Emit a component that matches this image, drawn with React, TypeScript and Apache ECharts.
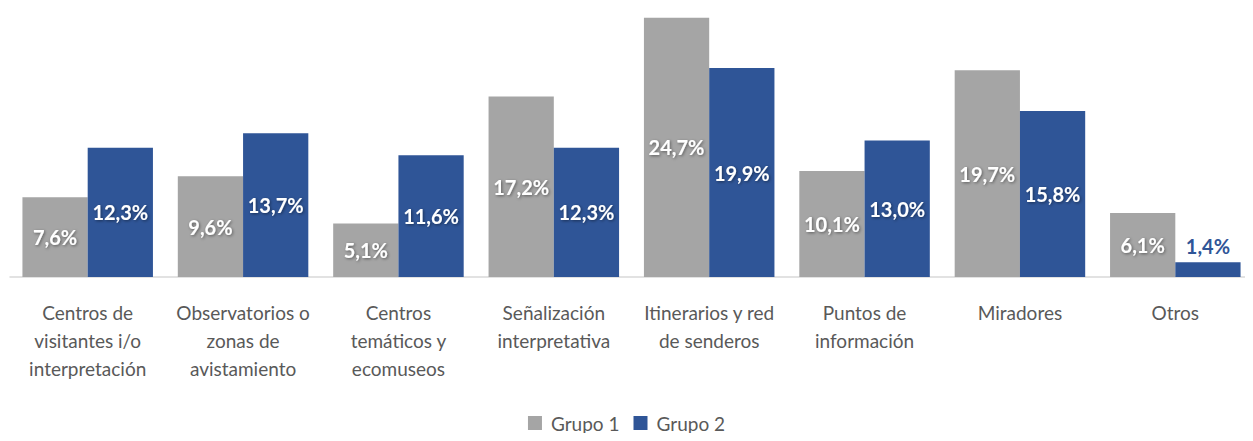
import React, { useEffect, useRef } from "react";
import * as echarts from "echarts";

const categories = [
  "Centros de\nvisitantes i/o\ninterpretación",
  "Observatorios o\nzonas de\navistamiento",
  "Centros\ntemáticos y\necomuseos",
  "Señalización\ninterpretativa",
  "Itinerarios y red\nde senderos",
  "Puntos de\ninformación",
  "Miradores",
  "Otros",
];
const grupo1 = [7.6, 9.6, 5.1, 17.2, 24.7, 10.1, 19.7, 6.1];
const grupo2 = [12.3, 13.7, 11.6, 12.3, 19.9, 13.0, 15.8, 1.4];
const seriesNames = ["Grupo 1", "Grupo 2"];

const FONT = "Lato, 'Open Sans', sans-serif";
const fmt = (v: number) => v.toFixed(1).replace(".", ",") + "%";

export default function App() {
  const ref = useRef<HTMLDivElement>(null);
  useEffect(() => {
    if (!ref.current) return;
    const chart = echarts.init(ref.current, undefined, { renderer: "svg" });
    const labelStyle = {
      show: true,
      position: "inside" as const,
      color: "#ffffff",
      fontFamily: FONT,
      fontWeight: "bold" as const,
      fontSize: 20,
      textShadowColor: "rgba(0,0,0,0.45)",
      textShadowBlur: 3,
      textShadowOffsetX: 1,
      textShadowOffsetY: 1,
      formatter: (p: any) => fmt(p.value),
    };
    chart.setOption({
      animation: false,
      textStyle: { fontFamily: FONT },
      grid: { left: 10, right: 0, top: 14.5, bottom: 164, containLabel: false },
      legend: {
        top: 412,
        left: "center",
        padding: 0,
        itemWidth: 14,
        itemHeight: 14,
        itemGap: 14,
        icon: "rect",
        textStyle: { fontFamily: FONT, fontSize: 19, lineHeight: 22, color: "#595959", padding: [0, 0, 0, 4] },
        data: seriesNames,
      },
      xAxis: {
        type: "category",
        data: categories,
        axisLine: { show: true, lineStyle: { color: "#D9D9D9", width: 1.5 } },
        axisTick: { show: false },
        axisLabel: {
          interval: 0,
          margin: 21,
          fontFamily: FONT,
          fontSize: 19,
          lineHeight: 28,
          color: "#595959",
        },
      },
      yAxis: { type: "value", min: 0, max: 25, show: false, splitLine: { show: false } },
      series: [
        {
          name: seriesNames[0],
          type: "bar",
          data: grupo1,
          barGap: "0%",
          barCategoryGap: "16%",
          itemStyle: { color: "#A5A5A5" },
          label: labelStyle,
        },
        {
          name: seriesNames[1],
          type: "bar",
          data: grupo2.map((v, i) =>
            i === grupo2.length - 1
              ? {
                  value: v,
                  label: {
                    position: "top",
                    color: "#2F5597",
                    textShadowColor: "transparent",
                    textShadowBlur: 0,
                    textShadowOffsetX: 0,
                    textShadowOffsetY: 0,
                    distance: 6,
                  },
                }
              : v
          ),
          barGap: "0%",
          barCategoryGap: "16%",
          itemStyle: { color: "#2F5597" },
          label: labelStyle,
        },
      ],
    });
    return () => chart.dispose();
  }, []);
  return <div ref={ref} style={{ width: 1253, height: 441, margin: -8 }} />;
}
